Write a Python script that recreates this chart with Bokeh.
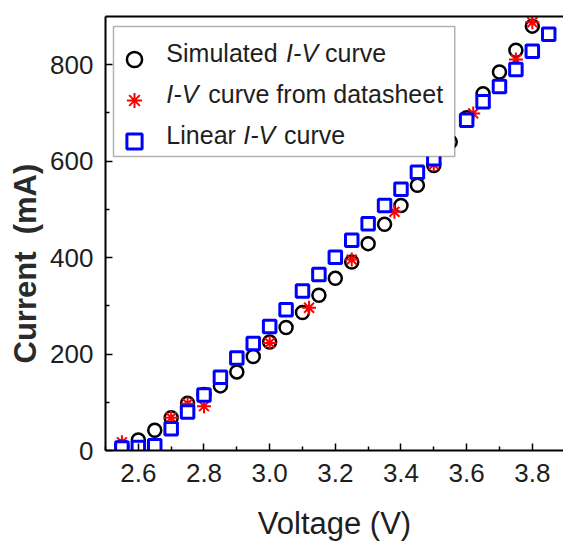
from bokeh.plotting import figure
from bokeh.models import (FixedTicker, PrintfTickFormatter, LinearAxis, Legend,
                          LegendItem, Label, Range1d, BoxAnnotation, Title)
from bokeh.core.properties import value
from bokeh.embed import file_html
from bokeh.resources import INLINE

# ---------------- data ----------------
V_SIM = [2.55, 2.60, 2.65, 2.70, 2.75, 2.80, 2.85, 2.90, 2.95, 3.00, 3.05, 3.10, 3.15,
         3.20, 3.25, 3.30, 3.35, 3.40, 3.45, 3.50, 3.55, 3.60, 3.65, 3.70, 3.75, 3.80]
I_SIM = [8, 22, 42, 68, 98, 116, 134, 163, 195, 225, 255, 286, 322,
         357, 391, 429, 469, 508, 550, 591, 640, 690, 740, 785, 830, 880]

V_DS = [2.55, 2.70, 2.75, 2.80, 3.00, 3.12, 3.25, 3.38, 3.50, 3.62, 3.75, 3.80]
I_DS = [17, 68, 97, 92, 223, 296, 396, 495, 593, 699, 811, 888]

V_LIN = [2.55, 2.60, 2.65, 2.70, 2.75, 2.80, 2.85, 2.90, 2.95, 3.00, 3.05, 3.10, 3.15, 3.20,
         3.25, 3.30, 3.35, 3.40, 3.45, 3.50, 3.60, 3.65, 3.70, 3.75, 3.80, 3.85]
I_LIN = [5, 6, 10, 45, 80, 115, 152, 192, 222, 257, 292, 331, 365, 401,
         436, 470, 508, 542, 577, 605, 685, 723, 755, 790, 828, 863]

X_TICKS = [2.6, 2.8, 3.0, 3.2, 3.4, 3.6, 3.8]
X_MINOR = [2.5, 2.7, 2.9, 3.1, 3.3, 3.5, 3.7]
Y_TICKS = [0, 200, 400, 600, 800]
Y_MINOR = [100, 300, 500, 700]

X_TITLE = "Voltage (V)"
Y_TITLE = "Current\u00a0\u00a0(mA)"
LEGEND_ROWS = [
    [("Simulated", "normal"), ("I-V", "italic"), ("curve", "normal")],
    [("I-V", "italic"), ("curve from datasheet", "normal")],
    [("Linear", "normal"), ("I-V", "italic"), ("curve", "normal")],
]

# ---------------- layout (canvas pixels) ----------------
X0, X1 = 2.5, 3.895
Y0, Y1 = 0, 900
W, H = 563, 543
BL, BR, BT, BB = 104, 0, 16, 93
FL, FT = BL, BT
FW = W - BL - BR
FH = H - BT - BB
FB = FT + FH


def dx(px):
    return X0 + (px - FL) / FW * (X1 - X0)


def dy(py):
    return Y0 + (FB - py) / FH * (Y1 - Y0)


FONT = "Liberation Sans"
TXT = "#1e1e1e"

p = figure(width=W, height=H, x_range=Range1d(X0, X1), y_range=Range1d(Y0, Y1),
           output_backend="svg", toolbar_location=None,
           min_border_left=BL, min_border_right=BR, min_border_top=BT,
           min_border_bottom=BB, outline_line_color=None,
           background_fill_color="white", border_fill_color="white")
p.grid.visible = False

for ax in (p.xaxis[0], p.yaxis[0]):
    ax.axis_line_width = 2
    ax.axis_line_color = "black"
    ax.major_tick_in = 7
    ax.major_tick_out = 0
    ax.minor_tick_in = 4
    ax.minor_tick_out = 0
    ax.major_tick_line_width = 1.5
    ax.minor_tick_line_width = 1.5
    ax.major_tick_line_color = "black"
    ax.minor_tick_line_color = "black"
    ax.major_label_text_font = FONT
    ax.major_label_text_font_size = "26px"
    ax.major_label_text_color = TXT

xa = p.xaxis[0]
xa.ticker = FixedTicker(ticks=X_TICKS, minor_ticks=X_MINOR)
xa.formatter = PrintfTickFormatter(format="%.1f")
xa.major_label_standoff = 13
xa.axis_label = X_TITLE
xa.axis_label_text_font = FONT
xa.axis_label_text_font_size = "31px"
xa.axis_label_text_font_style = "normal"
xa.axis_label_text_color = TXT
xa.axis_label_standoff = 21

ya = p.yaxis[0]
ya.ticker = FixedTicker(ticks=Y_TICKS, minor_ticks=Y_MINOR)
ya.major_label_standoff = 12

top = LinearAxis(ticker=FixedTicker(ticks=[]), axis_line_width=2,
                 axis_line_color="black", major_label_text_font_size="0px",
                 major_tick_line_color=None, minor_tick_line_color=None)
p.add_layout(top, "above")

p.add_layout(Title(text=Y_TITLE, align="left", offset=87, text_font=FONT,
                   text_font_size="31px", text_font_style="bold",
                   text_color="#2a2a2a"), "left")

r_sim = p.scatter(V_SIM, I_SIM, marker="circle", size=13, fill_color=None,
                  line_color="black", line_width=2.5)
r_ds = p.scatter(V_DS, I_DS, marker="asterisk", size=14, line_color="red",
                 line_width=2)
r_lin = p.scatter(V_LIN, I_LIN, marker="square", size=12.5, fill_color="white",
                  line_color="blue", line_width=3)

# legend box (opaque, above the data), glyphs and mixed-style texts
p.add_layout(BoxAnnotation(left=dx(112), right=dx(454), top=dy(26), bottom=dy(156),
                           fill_color="white", fill_alpha=1.0, line_color="black",
                           line_width=1.5, level="overlay"))

legend = Legend(items=[LegendItem(label=value(" "), renderers=[r_sim]),
                       LegendItem(label=value(" "), renderers=[r_ds]),
                       LegendItem(label=value(" "), renderers=[r_lin])],
                location=(112 - FL, FB - 159.5), padding=6, spacing=3,
                glyph_width=42, glyph_height=38, label_height=38, label_width=283,
                label_standoff=5, border_line_color=None,
                background_fill_alpha=0.0, label_text_font_size="25px",
                level="overlay")
p.add_layout(legend, "center")

ROW_Y = [52.5, 93.5, 134.5]
SEG_X = [[165, 285, 324], [165, 207], [165, 242, 283]]
for row, ry, xs in zip(LEGEND_ROWS, ROW_Y, SEG_X):
    for (txt, style), sx in zip(row, xs):
        p.add_layout(Label(x=dx(sx), y=dy(ry), text=txt, text_font=FONT,
                           text_font_size="25px", text_font_style=style,
                           text_color=TXT, text_align="left",
                           text_baseline="middle", level="overlay"))

open("out.html", "w").write(file_html(p, INLINE))
